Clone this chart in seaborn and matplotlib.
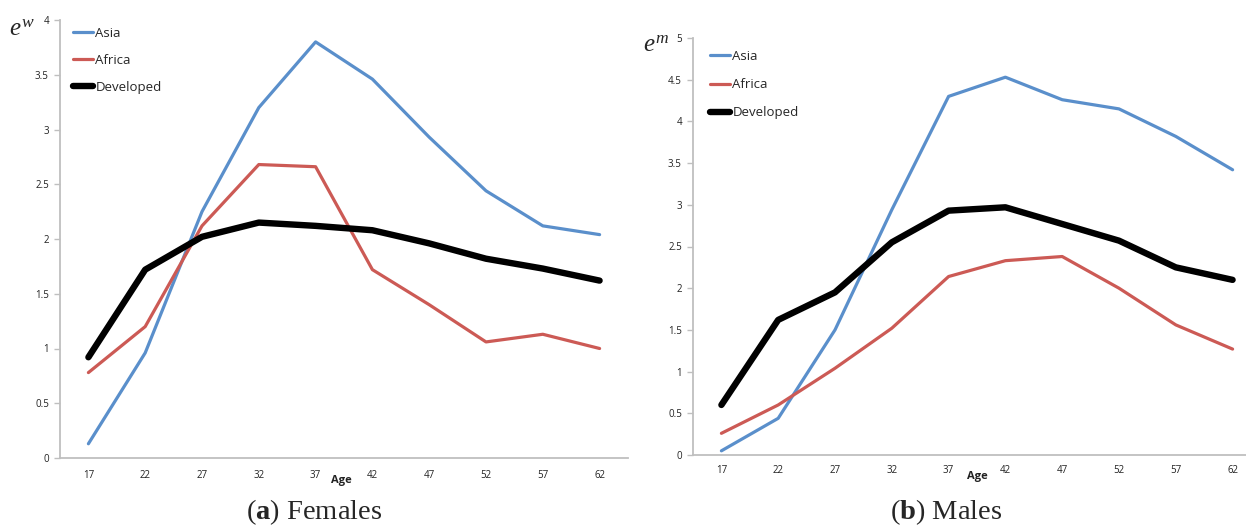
import matplotlib
matplotlib.use("Agg")
import matplotlib.pyplot as plt
import seaborn as sns
import pandas as pd
from matplotlib.lines import Line2D
from matplotlib.ticker import FuncFormatter

# ---- data ----
ages = [17, 22, 27, 32, 37, 42, 47, 52, 57, 62]
regions = ["Asia", "Africa", "Developed"]

fem_asia = [0.13, 0.96, 2.25, 3.20, 3.80, 3.46, 2.93, 2.44, 2.12, 2.04]
fem_africa = [0.78, 1.20, 2.12, 2.68, 2.66, 1.72, 1.40, 1.06, 1.13, 1.00]
fem_developed = [0.92, 1.72, 2.02, 2.15, 2.12, 2.08, 1.96, 1.82, 1.73, 1.62]

male_asia = [0.05, 0.44, 1.50, 2.94, 4.30, 4.53, 4.26, 4.15, 3.82, 3.42]
male_africa = [0.26, 0.60, 1.04, 1.52, 2.14, 2.33, 2.38, 2.00, 1.56, 1.27]
male_developed = [0.60, 1.62, 1.95, 2.55, 2.93, 2.97, 2.77, 2.57, 2.25, 2.10]

fem_yticks = [0, 0.5, 1, 1.5, 2, 2.5, 3, 3.5, 4]
male_yticks = [0, 0.5, 1, 1.5, 2, 2.5, 3, 3.5, 4, 4.5, 5]

colors = {"Asia": "#5A8FCB", "Africa": "#CC5A55", "Developed": "#000000"}
widths = {"Asia": 2.3, "Africa": 2.3, "Developed": 4.6}

def long_df(a, b, c):
    rows = []
    for reg, vals in zip(regions, [a, b, c]):
        for x, v in zip(ages, vals):
            rows.append({"Age": x, "value": v, "Region": reg})
    return pd.DataFrame(rows)

df_f = long_df(fem_asia, fem_africa, fem_developed)
df_m = long_df(male_asia, male_africa, male_developed)

sns.set_style("white")
plt.rcParams["font.family"] = ["Open Sans", "DejaVu Sans"]
plt.rcParams["mathtext.fontset"] = "custom"
plt.rcParams["mathtext.rm"] = "Liberation Serif"
plt.rcParams["mathtext.it"] = "Liberation Serif:italic"
plt.rcParams["mathtext.bf"] = "Liberation Serif:bold"

fig = plt.figure(figsize=(12.46, 5.25), dpi=100)
W, H = 1246, 525

def px_axes(x0, x1, ytop, ybot):
    return fig.add_axes([x0 / W, 1 - ybot / H, (x1 - x0) / W, (ybot - ytop) / H])

ax1 = px_axes(60, 628, 20, 458)
ax2 = px_axes(693, 1261, 38, 455)

def style(ax, df, ymax, yticks, label_pad):
    for reg in regions:
        sub = df[df["Region"] == reg]
        sns.lineplot(data=sub, x="Age", y="value", ax=ax, color=colors[reg],
                     linewidth=widths[reg], legend=False,
                     solid_capstyle="round", solid_joinstyle="round")
    ax.set_xlim(14.5, 64.5)
    ax.set_ylim(0, ymax)
    ax.set_xticks(ages)
    ax.set_yticks(yticks)
    ax.yaxis.set_major_formatter(FuncFormatter(lambda v, p: f"{v:g}"))
    ax.set_xlabel("")
    ax.set_ylabel("")
    for s in ["top", "right"]:
        ax.spines[s].set_visible(False)
    for s in ["left", "bottom"]:
        ax.spines[s].set_color("#BFBFBF")
        ax.spines[s].set_linewidth(1.3)
    ax.tick_params(axis="y", which="major", length=4, width=1, color="#BFBFBF",
                   labelsize=7, pad=4, left=True, labelcolor="#222222")
    ax.tick_params(axis="x", which="major", length=0, labelsize=7, pad=label_pad,
                   labelcolor="#222222")
    ax.grid(False)
    handles = [Line2D([0], [0], color=colors[r], linewidth=widths[r],
                      solid_capstyle="round") for r in regions]
    return handles

h1 = style(ax1, df_f, 4, fem_yticks, 9)
h2 = style(ax2, df_m, 5, male_yticks, 7)

leg_kw = dict(frameon=False, handlelength=1.5, handletextpad=0.2,
              fontsize=9.5, borderaxespad=0, borderpad=0)
ax1.legend(h1, regions, loc="upper left", bbox_to_anchor=(73 / W, 1 - 27 / H),
           bbox_transform=fig.transFigure, labelspacing=1.05, **leg_kw)
ax2.legend(h2, regions, loc="upper left", bbox_to_anchor=(710 / W, 1 - 50 / H),
           bbox_transform=fig.transFigure, labelspacing=1.15, **leg_kw)

# axis titles
fig.text(341 / W, 1 - 480 / H, "Age", ha="center", va="center",
         fontsize=8, fontweight="bold", color="#222222")
fig.text(977 / W, 1 - 477 / H, "Age", ha="center", va="center",
         fontsize=8, fontweight="bold", color="#222222")
fig.text(22 / W, 1 - 30 / H, r"$e^w$", ha="center", va="center", fontsize=18)
fig.text(656 / W, 1 - 45 / H, r"$e^m$", ha="center", va="center", fontsize=18)

# captions
fig.text(314 / W, 1 - 512 / H, r"($\mathbf{a}$) Females", ha="center", va="center",
         fontsize=20.5, family="Liberation Serif")
fig.text(946 / W, 1 - 512 / H, r"($\mathbf{b}$) Males", ha="center", va="center",
         fontsize=20.5, family="Liberation Serif")

fig.savefig("out.png", dpi=100)
